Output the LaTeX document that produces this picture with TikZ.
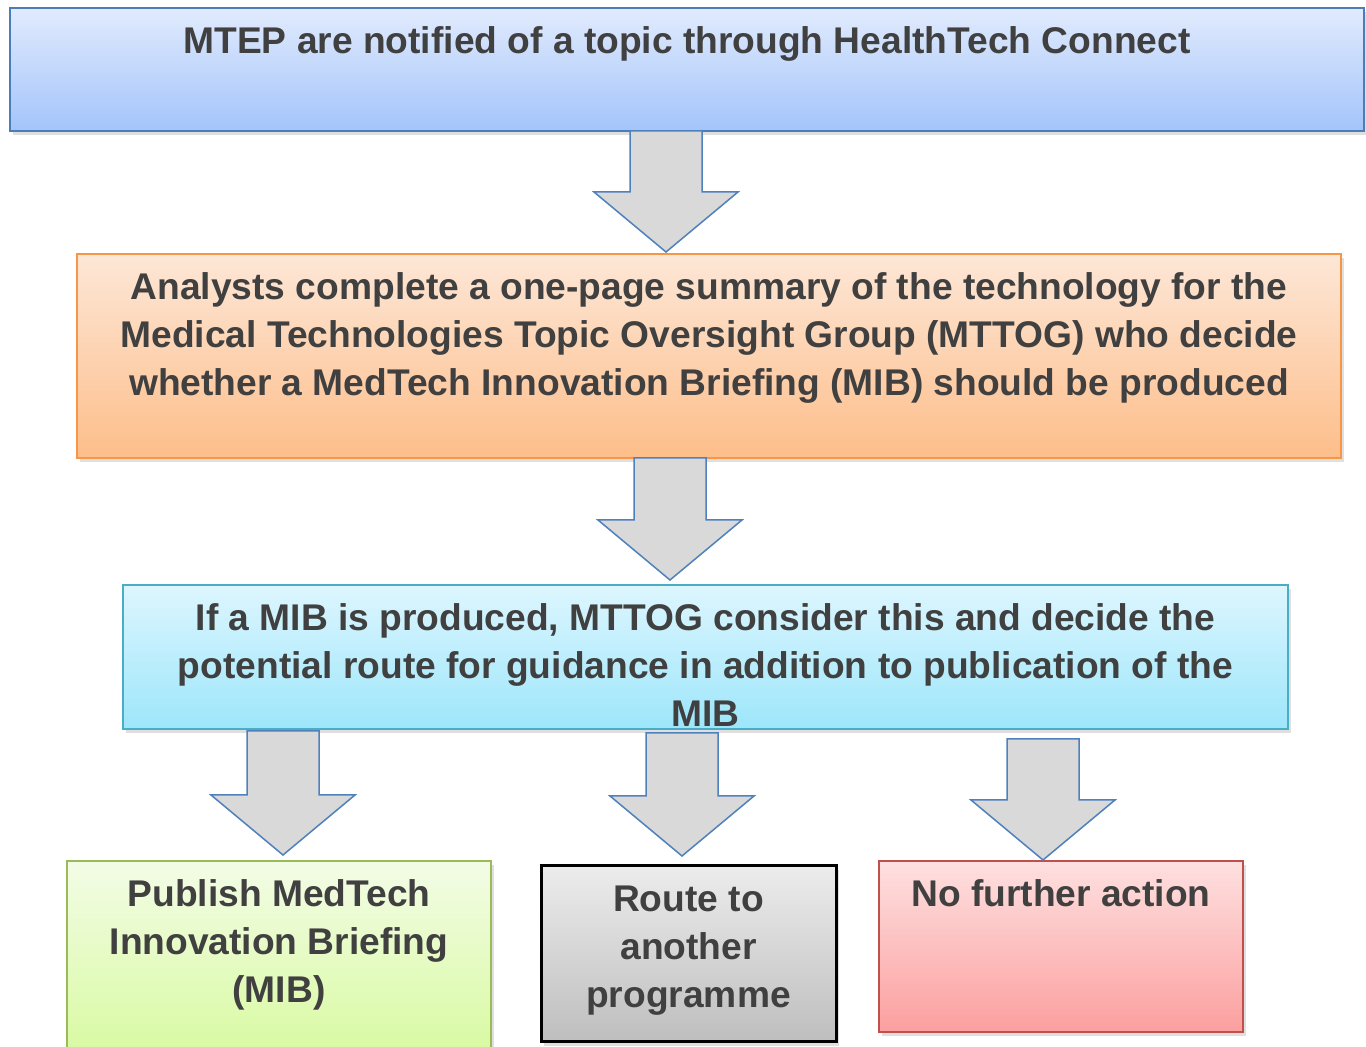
\documentclass[tikz,border=0pt]{standalone}
\usepackage{fontspec}
\setmainfont{Liberation Sans}
\usepackage{xcolor}
\definecolor{textgray}{HTML}{404040}
\definecolor{arrowgray}{HTML}{D9D9D9}
\definecolor{arrowblue}{HTML}{4F81BD}
\definecolor{bluetop}{HTML}{E1EBFD}
\definecolor{bluebottom}{HTML}{A3C4FB}
\definecolor{blueline}{HTML}{4A7EBB}
\definecolor{orangetop}{HTML}{FDE7D7}
\definecolor{orangebottom}{HTML}{FDBE8A}
\definecolor{orangeline}{HTML}{F79646}
\definecolor{cyantop}{HTML}{DDF6FE}
\definecolor{cyanbottom}{HTML}{9DE6FB}
\definecolor{cyanline}{HTML}{4BACC6}
\definecolor{greentop}{HTML}{F3FCE6}
\definecolor{greenbottom}{HTML}{D6FA9C}
\definecolor{greenline}{HTML}{9BBB59}
\definecolor{graytop}{HTML}{ECECEC}
\definecolor{graybottom}{HTML}{BEBEBE}
\definecolor{redtop}{HTML}{FEE0E0}
\definecolor{redbottom}{HTML}{FC9F9F}
\definecolor{redline}{HTML}{C0504D}
\usepackage{tikz}
\usetikzlibrary{calc, shadows}

\tikzset{
  flowbox/.style={draw, line width=0.04cm, inner sep=0pt, outer sep=0pt, anchor=north west,
    text=textgray, font=\bfseries\fontsize{21.15}{27.2}\selectfont,
    drop shadow={opacity=0.25, shadow xshift=0.05cm, shadow yshift=-0.08cm}},
  blockarrow/.style={draw=arrowblue, fill=arrowgray, line width=0.03cm, line join=miter},
}

% text of a box: top aligned, centred
\newcommand{\boxtext}[3]{\parbox[c][#2][t]{#1}{\centering\vspace*{0.25cm}\strut #3}}
% block arrow from one box down to the next: x, from, to, top gap, bottom gap
\newcommand{\flowarrow}[5]{%
  \draw[blockarrow] let \p1=(#2.south), \p2=(#3.north) in
    (#1cm-0.72cm,\y1-#4cm) -- (#1cm-0.72cm,\y2+#5cm+1.2cm) -- (#1cm-1.44cm,\y2+#5cm+1.2cm)
    -- (#1cm,\y2+#5cm) -- (#1cm+1.44cm,\y2+#5cm+1.2cm) -- (#1cm+0.72cm,\y2+#5cm+1.2cm)
    -- (#1cm+0.72cm,\y1-#4cm) -- cycle;}

\begin{document}
\begin{tikzpicture}
  \useasboundingbox (0,0) rectangle (27.32,-20.94);

  % Boxes
  \node[flowbox, top color=bluetop, bottom color=bluebottom, draw=blueline] (mtep) at (0.2,-0.16)
    {\boxtext{27.08cm}{2.46cm}{MTEP are notified of a topic through HealthTech Connect}};
  \node[flowbox, top color=orangetop, bottom color=orangebottom, draw=orangeline] (analysts) at (1.54,-5.08)
    {\boxtext{25.28cm}{4.08cm}{Analysts complete a one-page summary of the technology for the\\
      Medical Technologies Topic Oversight Group (MTTOG) who decide\\
      whether a MedTech Innovation Briefing (MIB) should be produced}};
  \node[flowbox, top color=cyantop, bottom color=cyanbottom, draw=cyanline] (mttog) at (2.46,-11.7)
    {\boxtext{23.3cm}{2.88cm}{If a MIB is produced, MTTOG consider this and decide the\\
      potential route for guidance in addition to publication of the\\ MIB}};
  \node[flowbox, top color=greentop, bottom color=greenbottom, draw=greenline] (publish) at (1.34,-17.22)
    {\boxtext{8.48cm}{4.18cm}{Publish MedTech\\ Innovation Briefing\\ (MIB)}};
  \node[flowbox, top color=graytop, bottom color=graybottom, draw=black, line width=0.06cm] (route) at (10.82,-17.32)
    {\boxtext{5.9cm}{3.52cm}{Route to\\ another\\ programme}};
  \node[flowbox, top color=redtop, bottom color=redbottom, draw=redline] (nofurther) at (17.58,-17.22)
    {\boxtext{7.28cm}{3.42cm}{No further action}};

  % Arrows
  \flowarrow{13.32}{mtep}{analysts}{0}{0.04}
  \flowarrow{13.4}{analysts}{mttog}{0}{0.1}
  \flowarrow{5.66}{mttog}{publish}{0.04}{0.12}
  \flowarrow{13.64}{mttog}{route}{0.08}{0.2}
  \flowarrow{20.86}{mttog}{nofurther}{0.2}{0.02}
\end{tikzpicture}
\end{document}
